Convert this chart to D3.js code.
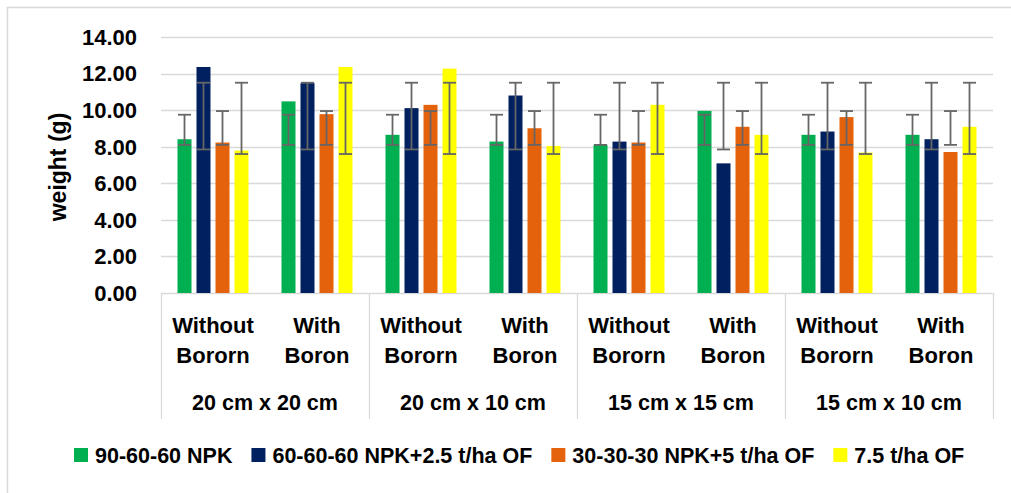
<!DOCTYPE html>
<html><head><meta charset="utf-8">
<script src="https://cdn.jsdelivr.net/npm/d3@7"></script>
<style>
body{margin:0;background:#fff;}
svg{display:block;}
text{font-family:"Liberation Sans",Arial,sans-serif;font-weight:bold;fill:#000;}
</style>
</head><body>
<svg id="c" width="1011" height="493"></svg>
<script>
const spacings = ["20 cm x 20 cm","20 cm x 10 cm","15 cm x 15 cm","15 cm x 10 cm"];
const boronLabels = [["Without","Bororn"],["With","Boron"]];
const seriesNames = ["90-60-60 NPK","60-60-60 NPK+2.5 t/ha OF","30-30-30 NPK+5 t/ha OF","7.5 t/ha OF"];
const seriesColors = ["#00b050","#002060","#e4620b","#ffff00"];
const npk90     = [8.41,10.48,8.65,8.28,8.10,9.96,8.65,8.65];
const npk60of25 = [12.36,11.48,10.11,10.80,8.28,7.09,8.83,8.41];
const npk30of5  = [8.23,9.78,10.29,9.01,8.23,9.09,9.62,7.71];
const of75      = [7.79,12.36,12.27,8.04,10.29,8.65,7.68,9.09];
const errLow  = [8.10,7.85,8.10,7.60];
const errHigh = [9.75,11.50,9.95,11.50];
const yTicks = [0,2,4,6,8,10,12,14];
const yTitle = "weight (g)";

const series = [npk90,npk60of25,npk30of5,of75];
const cats = [];
spacings.forEach((s,i)=>boronLabels.forEach((b,j)=>cats.push({key:i+"-"+j,spacing:s,lab:b})));

const svg = d3.select("#c");
const L=161, R=993, T=37, B=293;
const y = d3.scaleLinear().domain([0,14]).range([B,T]);
const x0 = d3.scaleBand().domain(cats.map(c=>c.key)).range([L,R]);
const x1 = d3.scaleBand().domain(d3.range(4)).range([0,x0.bandwidth()]).paddingInner(0.263).paddingOuter(0.868);
const xo = d3.scaleBand().domain(spacings).range([L,R]);

// chart border
svg.append("rect").attr("x",7.5).attr("y",7.5).attr("width",1100).attr("height",700)
  .attr("fill","none").attr("stroke","#d9d9d9").attr("stroke-width",1.5);

// gridlines
svg.append("g").selectAll("line").data(yTicks).join("line")
  .attr("x1",L).attr("x2",R).attr("y1",d=>Math.round(y(d))+0.5).attr("y2",d=>Math.round(y(d))+0.5)
  .attr("stroke","#d9d9d9").attr("stroke-width",1.3);

// y tick labels
svg.append("g").selectAll("text").data(yTicks).join("text")
  .attr("x",137).attr("y",d=>y(d)).attr("dy","0.36em").attr("text-anchor","end")
  .style("font-size","22px").text(d=>d3.format(".2f")(d));

// y title
svg.append("text").attr("transform","translate(58,"+((T+B)/2+2)+") rotate(-90)")
  .attr("text-anchor","middle").attr("dy","0.36em").style("font-size","23px").text(yTitle);

// bars
const gb = svg.append("g");
series.forEach((vals,si)=>{
  gb.append("g").selectAll("rect").data(vals).join("rect")
    .attr("x",(d,i)=>x0(cats[i].key)+x1(si))
    .attr("width",x1.bandwidth())
    .attr("y",d=>y(d)).attr("height",d=>B-y(d))
    .attr("fill",seriesColors[si]);
});

// error bars
const ge = svg.append("g").attr("stroke","#666666").attr("stroke-width",1.8).attr("fill","none");
series.forEach((vals,si)=>{
  vals.forEach((v,i)=>{
    const cx = x0(cats[i].key)+x1(si)+x1.bandwidth()/2;
    const lo=y(errLow[si]), hi=y(errHigh[si]);
    ge.append("line").attr("x1",cx).attr("x2",cx).attr("y1",lo).attr("y2",hi);
    ge.append("line").attr("x1",cx-6.5).attr("x2",cx+6.5).attr("y1",lo).attr("y2",lo);
    ge.append("line").attr("x1",cx-6.5).attr("x2",cx+6.5).attr("y1",hi).attr("y2",hi);
  });
});

// category dividers
const divX = spacings.map(s=>xo(s)).concat([R]);
svg.append("g").selectAll("line").data(divX).join("line")
  .attr("x1",d=>Math.round(d)+0.5).attr("x2",d=>Math.round(d)+0.5).attr("y1",B).attr("y2",419)
  .attr("stroke","#d9d9d9").attr("stroke-width",1.3);

// inner labels
const gl = svg.append("g");
cats.forEach(c=>{
  const cx = x0(c.key)+x0.bandwidth()/2;
  gl.append("text").attr("x",cx).attr("y",333).attr("text-anchor","middle").style("font-size","22px").text(c.lab[0]);
  gl.append("text").attr("x",cx).attr("y",363).attr("text-anchor","middle").style("font-size","22px").text(c.lab[1]);
});
// outer labels
svg.append("g").selectAll("text").data(spacings).join("text")
  .attr("x",d=>xo(d)+xo.bandwidth()/2).attr("y",410).attr("text-anchor","middle")
  .style("font-size","21.5px").text(d=>d);

// legend
const lg = svg.append("g");
let lx = 74;
seriesNames.forEach((n,i)=>{
  lg.append("rect").attr("x",lx).attr("y",448).attr("width",14).attr("height",14).attr("fill",seriesColors[i]);
  const t = lg.append("text").attr("x",lx+21).attr("y",455).attr("dy","0.36em").style("font-size","21.5px").text(n);
  lx = lx+21+t.node().getComputedTextLength()+19;
});
</script>
</body></html>
